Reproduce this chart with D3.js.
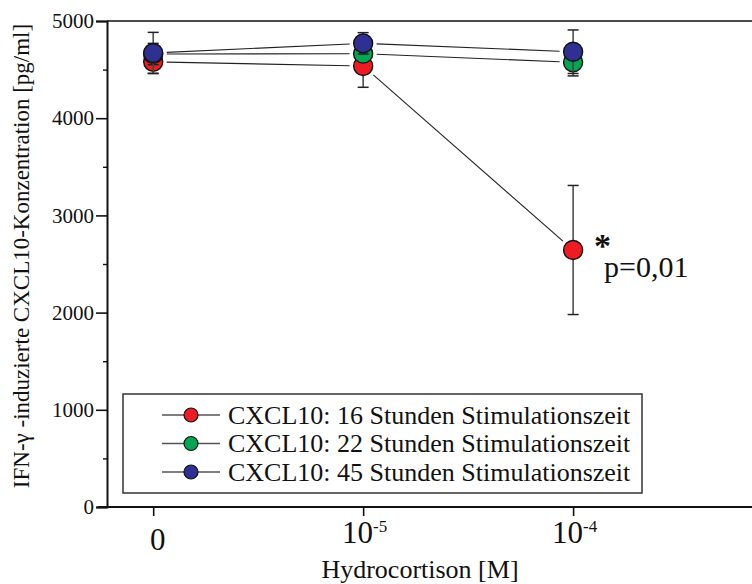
<!DOCTYPE html>
<html>
<head>
<meta charset="utf-8">
<script src="https://cdn.jsdelivr.net/npm/d3@7"></script>
<style>
  body { margin: 0; background: #fff; }
  svg { display: block; }
  svg text { font-family: "Times New Roman", "Liberation Serif", Tinos, Times, serif !important; fill: #111; }
</style>
</head>
<body>
<svg width="752" height="584"></svg>
<script>
// Daten
var categories = ["0", "-5", "-4"];   // 0, 10^-5, 10^-4 M
var series = ["CXCL10: 16 Stunden Stimulationszeit", "CXCL10: 22 Stunden Stimulationszeit", "CXCL10: 45 Stunden Stimulationszeit"];
var colors = ["#ed1c24", "#00a651", "#2e3192"];
var mean16 = [4580, 4537, 2644];
var sd16 = [118, 219, 664];
var mean22 = [4660, 4664, 4575];
var sd22 = [110, 60, 140];
var mean45 = [4671, 4770, 4684];
var sd45 = [212, 110, 224];
var yTicks = [0, 1000, 2000, 3000, 4000, 5000];
var yMinor = [500, 1500, 2500, 3500, 4500];

var means = [mean16, mean22, mean45];
var sds = [sd16, sd22, sd45];

var svg = d3.select('svg');

// Skalen
var xScale = d3.scaleLinear().domain([-0.22, 2.852]).range([107, 752]);
var yScale = d3.scaleLinear().domain([0, 5000]).range([507, 21]);

// Rahmen oben
svg.append('line')
  .attr('x1', 107).attr('x2', 752)
  .attr('y1', yScale(5000)).attr('y2', yScale(5000))
  .attr('stroke', '#111').attr('stroke-width', 1.6);

// y-Achse
var yAxis = d3.axisLeft(yScale).tickValues(yTicks).tickSize(11).tickPadding(2).tickFormat(d3.format('d'));
var yAxisGroup = svg.append('g').attr('transform', 'translate(107,0)').call(yAxis);
yAxisGroup.attr('font-family', null);
yAxisGroup.select('.domain').attr('stroke', '#111').attr('stroke-width', 2);
yAxisGroup.selectAll('.tick line').attr('stroke', '#111').attr('stroke-width', 1.6);
yAxisGroup.selectAll('.tick text')
  .style('font-size', '21px').attr('fill', '#111');

var yMinorAxis = d3.axisLeft(yScale).tickValues(yMinor).tickSize(4).tickFormat('');
var yMinorGroup = svg.append('g').attr('transform', 'translate(107,0)').call(yMinorAxis);
yMinorGroup.select('.domain').remove();
yMinorGroup.selectAll('.tick line').attr('stroke', '#111').attr('stroke-width', 1.4);

// x-Achse
svg.append('line')
  .attr('x1', 98).attr('x2', 752)
  .attr('y1', yScale(0)).attr('y2', yScale(0))
  .attr('stroke', '#111').attr('stroke-width', 2.2);

var xAxis = d3.axisBottom(xScale).tickValues([0, 1, 2]).tickSize(9).tickFormat('');
var xAxisGroup = svg.append('g').attr('transform', 'translate(0,' + yScale(0) + ')').call(xAxis);
xAxisGroup.attr('font-family', null);
xAxisGroup.select('.domain').remove();
xAxisGroup.selectAll('.tick line').attr('stroke', '#111').attr('stroke-width', 1.6);

xAxisGroup.selectAll('.tick').each(function(d, i) {
  var t = d3.select(this).append('text')
    .attr('text-anchor', 'middle')
    .style('font-size', '31px')
    .attr('fill', '#111');
  if (i == 0) {
    t.attr('x', 4).attr('y', 43).text(categories[i]);
  } else {
    t.attr('x', 1).attr('y', 36);
    t.append('tspan').text('10');
    t.append('tspan').attr('dy', -11).style('font-size', '17px').text(categories[i]);
  }
});

// Achsentitel
svg.append('text')
  .attr('x', 420).attr('y', 578)
  .attr('text-anchor', 'middle')
  .style('font-size', '26px')
  .text('Hydrocortison [M]');

svg.append('text')
  .attr('transform', 'translate(29,256) rotate(-90)')
  .attr('text-anchor', 'middle')
  .style('font-size', '23px')
  .text('IFN-γ -induzierte CXCL10-Konzentration [pg/ml]');

// Verbindungslinien mit Lücke an den Punkten
var r = 9.5;
var gap = r + 4;
series.forEach(function(s, k) {
  var pts = means[k].map(function(v, i) { return [xScale(i), yScale(v)]; });
  for (var i = 0; i < pts.length - 1; i++) {
    var a = pts[i], b = pts[i + 1];
    var dx = b[0] - a[0], dy = b[1] - a[1];
    var len = Math.sqrt(dx * dx + dy * dy);
    var ux = dx / len, uy = dy / len;
    svg.append('line')
      .attr('x1', a[0] + ux * gap).attr('y1', a[1] + uy * gap)
      .attr('x2', b[0] - ux * gap).attr('y2', b[1] - uy * gap)
      .attr('stroke', '#222').attr('stroke-width', 1.1);
  }
});

// Fehlerbalken und Punkte je Serie
series.forEach(function(s, k) {
  var g = svg.append('g').attr('class', 'serie' + k);
  var rows = means[k].map(function(v, i) { return {i: i, m: v, sd: sds[k][i]}; });

  var eb = g.selectAll('g.eb').data(rows).enter().append('g').attr('class', 'eb');
  eb.append('line')
    .attr('x1', d => xScale(d.i)).attr('x2', d => xScale(d.i))
    .attr('y1', d => yScale(d.m + d.sd)).attr('y2', d => yScale(d.m - d.sd))
    .attr('stroke', '#444').attr('stroke-width', 1.5);
  eb.append('line')
    .attr('x1', d => xScale(d.i) - 5.5).attr('x2', d => xScale(d.i) + 5.5)
    .attr('y1', d => yScale(d.m + d.sd)).attr('y2', d => yScale(d.m + d.sd))
    .attr('stroke', '#222').attr('stroke-width', 1.5);
  eb.append('line')
    .attr('x1', d => xScale(d.i) - 5.5).attr('x2', d => xScale(d.i) + 5.5)
    .attr('y1', d => yScale(d.m - d.sd)).attr('y2', d => yScale(d.m - d.sd))
    .attr('stroke', '#222').attr('stroke-width', 1.5);

  g.selectAll('circle').data(rows).enter().append('circle')
    .attr('cx', d => xScale(d.i))
    .attr('cy', d => yScale(d.m))
    .attr('r', r)
    .attr('fill', colors[k])
    .attr('stroke', '#111').attr('stroke-width', 1.4);
});

// Signifikanz
svg.append('text')
  .attr('x', 594).attr('y', 257)
  .style('font-size', '34px').style('font-weight', 'bold')
  .text('*');
svg.append('text')
  .attr('x', 604).attr('y', 277)
  .style('font-size', '30px')
  .text('p=0,01');

// Legende
svg.append('rect')
  .attr('x', 123).attr('y', 394)
  .attr('width', 519).attr('height', 99)
  .attr('fill', 'none').attr('stroke', '#333').attr('stroke-width', 1.5);

var leg = svg.selectAll('g.leg').data(series).enter().append('g')
  .attr('class', 'leg')
  .attr('transform', (d, i) => 'translate(0,' + (415 + i * 28.5) + ')');
leg.append('line')
  .attr('x1', 162).attr('x2', 220)
  .attr('stroke', '#555').attr('stroke-width', 1.5);
leg.append('circle')
  .attr('cx', 191).attr('r', 7)
  .attr('fill', (d, i) => colors[i])
  .attr('stroke', '#111').attr('stroke-width', 1.2);
leg.append('text')
  .attr('x', 228).attr('y', 8.5)
  .style('font-size', '26px')
  .text(d => d);
</script>
</body>
</html>
